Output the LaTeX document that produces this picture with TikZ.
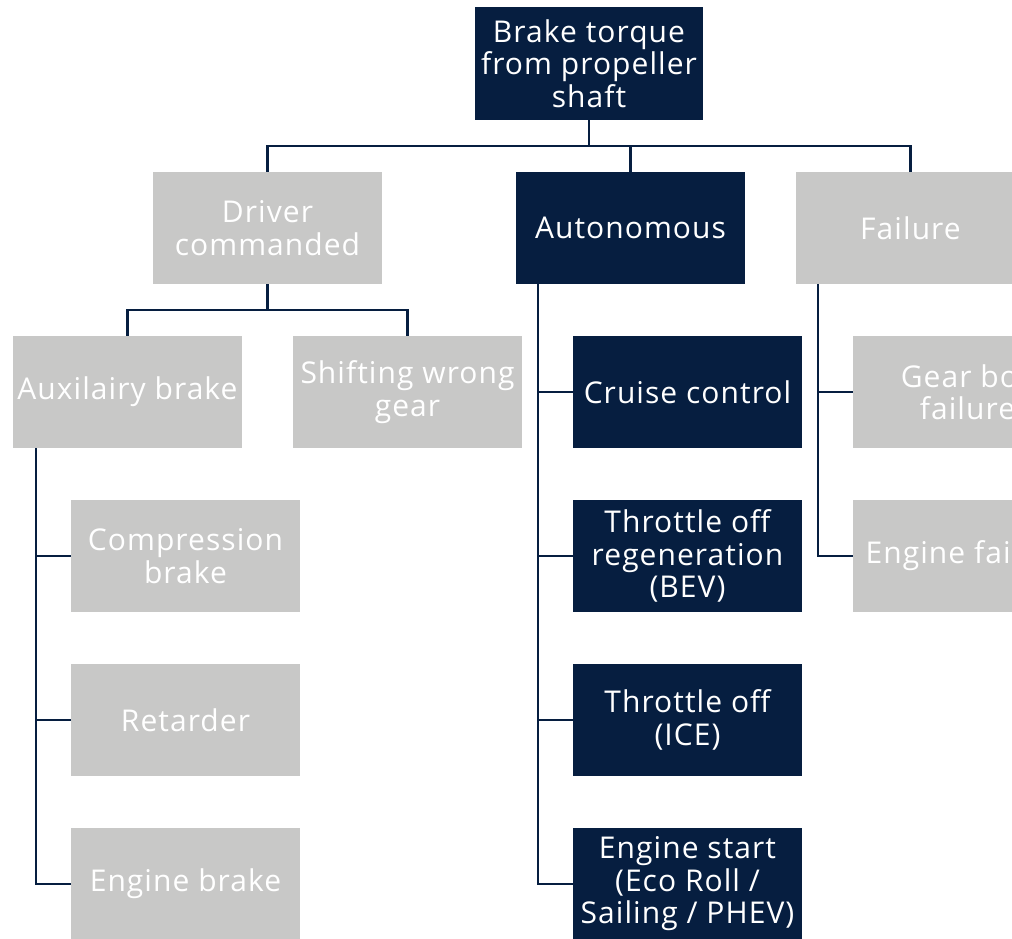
\documentclass[tikz,border=0pt]{standalone}
\usepackage{fontspec}
\setmainfont{Open Sans}[LetterSpace=3.5]
\definecolor{navy}{HTML}{061E40}
\definecolor{lgrey}{HTML}{C8C8C7}
\tikzset{
  box/.style={minimum width=229pt, minimum height=112pt, inner sep=0pt, align=center,
    text=white, font=\fontsize{30}{32.5}\selectfont},
  dark/.style={box, fill=navy},
  light/.style={box, fill=lgrey},
  conn/.style={draw=navy, line width=2.5pt}
}
\begin{document}
\begin{tikzpicture}[x=1pt,y=-1pt]
\useasboundingbox (0,0) rectangle (1012,939);
\clip (0,0) rectangle (1012,939);
% nodes
\node[dark, minimum width=228pt, minimum height=113pt] (top) at (589,63.5) {Brake torque\\from propeller\\shaft};
\node[light] (driver) at (267.5,228) {Driver\\commanded};
\node[dark] (auto) at (630.5,228) {Autonomous};
\node[light] (fail) at (910.5,228) {Failure};
\node[light] (aux) at (127.5,392) {Auxilairy brake};
\node[light] (shift) at (407.5,392) {Shifting wrong\\gear};
\node[light] (comp) at (185.5,556) {Compression\\brake};
\node[light] (ret) at (185.5,720) {Retarder};
\node[light] (ebrake) at (185.5,884) {Engine brake};
\node[dark] (cruise) at (687.5,392) {Cruise control};
\node[dark] (bev) at (687.5,556) {Throttle off\\regeneration\\(BEV)};
\node[dark] (ice) at (687.5,720) {Throttle off\\(ICE)};
\node[dark] (estart) at (687.5,884) {Engine start\\(Eco Roll /\\Sailing / PHEV)};
\node[light] (gear) at (967.5,392) {Gear box\\failure};
\node[light] (efail) at (967.5,556) {Engine failure};
% connectors level 1
\coordinate (b1) at (589,146);
\draw[conn] (top.south) -- (b1);
\draw[conn] (driver.north) |- (b1);
\draw[conn] (fail.north) |- (b1);
\draw[conn] (auto.north) -- (auto.north |- b1);
% driver children
\coordinate (b2) at (267.5,310);
\draw[conn] (driver.south) -- (b2);
\draw[conn] (aux.north) |- (b2);
\draw[conn] (shift.north) |- (b2);
% aux spine
\coordinate (s1) at ([xshift=23pt]aux.south west);
\draw[conn] (s1) |- (comp.west);
\draw[conn] (s1) |- (ret.west);
\draw[conn] (s1) |- (ebrake.west);
% autonomous spine
\coordinate (s2) at ([xshift=22pt]auto.south west);
\draw[conn] (s2) |- (cruise.west);
\draw[conn] (s2) |- (bev.west);
\draw[conn] (s2) |- (ice.west);
\draw[conn] (s2) |- (estart.west);
% failure spine
\coordinate (s3) at ([xshift=22pt]fail.south west);
\draw[conn] (s3) |- (gear.west);
\draw[conn] (s3) |- (efail.west);
\end{tikzpicture}
\end{document}
